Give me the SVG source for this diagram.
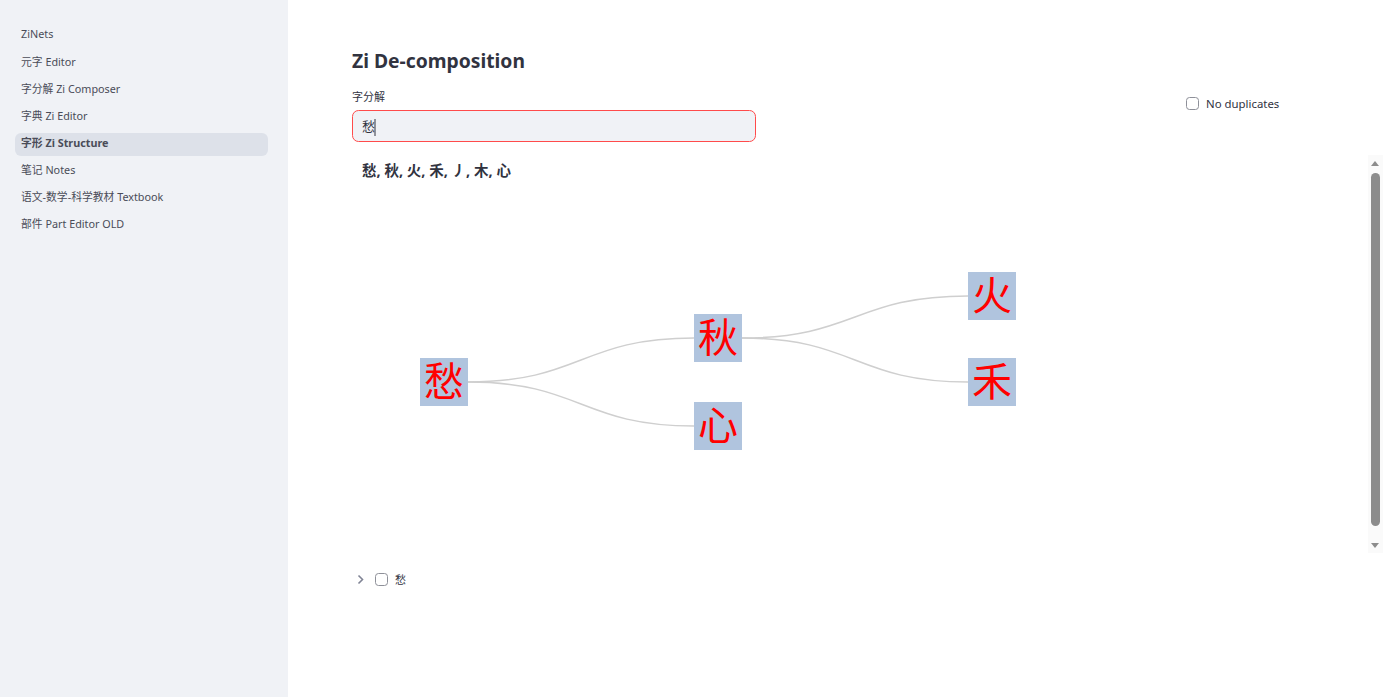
<svg xmlns="http://www.w3.org/2000/svg" width="1396" height="697" viewBox="0 0 1396 697">
<style>
.nav{font-family:"Noto Sans","Noto Sans CJK SC",sans-serif;font-size:10.8px;fill:#4a4c58}
.ui{font-family:"Noto Sans","Noto Sans CJK SC",sans-serif;fill:#31333f}
.box{fill:#b0c4de}
.zi{font-family:"Noto Sans CJK SC",sans-serif;font-size:40px;fill:#ff0000;text-anchor:middle}
.link{fill:none;stroke:#cfcfcf;stroke-width:1.5}
.cb{fill:#ffffff;stroke:#8e9099;stroke-width:1}
</style>
<rect x="0" y="0" width="1396" height="697" fill="#ffffff"/>
<g id="sidebar">
<rect x="0" y="0" width="288" height="697" fill="#f0f2f6"/>
<rect x="15" y="133" width="253" height="23" rx="6" fill="#dde1e9"/>
<text class="nav" x="21" y="38">ZiNets</text>
<text class="nav" x="21" y="66">元字 Editor</text>
<text class="nav" x="21" y="93">字分解 Zi Composer</text>
<text class="nav" x="21" y="120">字典 Zi Editor</text>
<text class="nav" x="21" y="147" font-weight="bold" fill="#262730">字形 Zi Structure</text>
<text class="nav" x="21" y="174">笔记 Notes</text>
<text class="nav" x="21" y="201">语文-数学-科学教材 Textbook</text>
<text class="nav" x="21" y="228">部件 Part Editor OLD</text>
</g>
<g id="header">
<text class="ui" x="352" y="68" font-size="19.3" font-weight="bold">Zi De-composition</text>
<text class="ui" x="352" y="101" font-size="11">字分解</text>
<rect x="352.5" y="110.5" width="403" height="31" rx="6" fill="#f0f2f6" stroke="#ff4b4b" stroke-width="1"/>
<text class="ui" x="362" y="131" font-size="13">愁</text>
<line x1="375" y1="119" x2="375" y2="136" stroke="#31333f" stroke-width="1"/>
<text class="ui" x="362" y="176" font-size="14.5" font-weight="bold" fill="#4a4a4a">愁, 秋, 火, 禾, 丿, 木, 心</text>
<rect class="cb" x="1186.5" y="97.5" width="12" height="12" rx="3"/>
<text class="ui" x="1206" y="108" font-size="11.4">No duplicates</text>
</g>
<g id="scrollbar">
<rect x="1368" y="155" width="15" height="398" fill="#fafafa"/>
<polygon points="1371,166 1375,161 1379,166" fill="#8c8c8c"/>
<rect x="1371" y="173" width="9" height="353" rx="4.5" fill="#8c8c8c"/>
<polygon points="1371,543 1379,543 1375,548" fill="#8c8c8c"/>
</g>
<g id="links">
<path class="link" d="M468,382 C581,382 581,338 694,338"/>
<path class="link" d="M468,382 C581,382 581,426 694,426"/>
<path class="link" d="M742,338 C855,338 855,296 968,296"/>
<path class="link" d="M742,338 C855,338 855,382 968,382"/>
</g>
<g id="node-chou">
<rect class="box" x="420" y="358" width="48" height="48"/>
<text class="zi" x="444" y="396">愁</text>
</g>
<g id="node-qiu">
<rect class="box" x="694" y="314" width="48" height="48"/>
<text class="zi" x="718" y="352">秋</text>
</g>
<g id="node-xin">
<rect class="box" x="694" y="402" width="48" height="48"/>
<text class="zi" x="718" y="440">心</text>
</g>
<g id="node-huo">
<rect class="box" x="968" y="272" width="48" height="48"/>
<text class="zi" x="992" y="310">火</text>
</g>
<g id="node-he">
<rect class="box" x="968" y="358" width="48" height="48"/>
<text class="zi" x="992" y="396">禾</text>
</g>
<g id="footer">
<polyline points="358.5,575.5 362.5,579.5 358.5,583.5" fill="none" stroke="#808495" stroke-width="1.6"/>
<rect class="cb" x="375.5" y="573.5" width="12" height="12" rx="3"/>
<text class="ui" x="395" y="584" font-size="11">愁</text>
</g>
</svg>
